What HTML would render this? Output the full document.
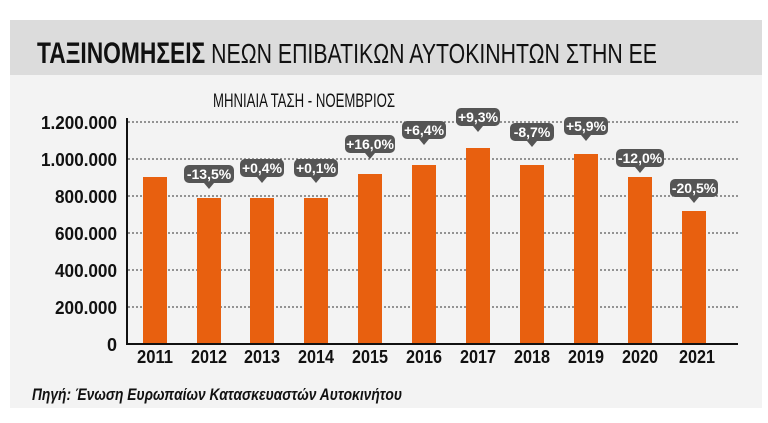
<!DOCTYPE html>
<html><head><meta charset="utf-8"><style>
body{margin:0;width:768px;height:418px;background:#fff;overflow:hidden;font-family:"Liberation Sans",sans-serif;}
</style></head><body>
<svg width="768" height="418" viewBox="0 0 768 418" xmlns="http://www.w3.org/2000/svg" font-family="'Liberation Sans',sans-serif">
<rect x="10" y="20" width="752" height="388" fill="#f3f3f3"/>
<rect x="10" y="20" width="752" height="55" fill="#dcdcdc"/>
<text x="37" y="63" font-size="30" font-weight="bold" fill="#111" textLength="620" lengthAdjust="spacingAndGlyphs"><tspan font-weight="bold">ΤΑΞΙΝΟΜΗΣΕΙΣ</tspan><tspan font-weight="normal" font-size="28"> ΝΕΩΝ ΕΠΙΒΑΤΙΚΩΝ ΑΥΤΟΚΙΝΗΤΩΝ ΣΤΗΝ ΕΕ</tspan></text>
<text x="213" y="107" font-size="19" fill="#111" textLength="182" lengthAdjust="spacingAndGlyphs">ΜΗΝΙΑΙΑ ΤΑΣΗ - ΝΟΕΜΒΡΙΟΣ</text>
<g stroke="#333" stroke-width="1" stroke-dasharray="2,2">
<line x1="128" x2="738" y1="122" y2="122"/><line x1="128" x2="738" y1="159" y2="159"/><line x1="128" x2="738" y1="196" y2="196"/><line x1="128" x2="738" y1="233" y2="233"/><line x1="128" x2="738" y1="270" y2="270"/><line x1="128" x2="738" y1="307" y2="307"/>
</g>
<g font-size="18" font-weight="bold" fill="#111" text-anchor="end">
<text x="117" y="129" textLength="76" lengthAdjust="spacingAndGlyphs">1.200.000</text><text x="117" y="166" textLength="76" lengthAdjust="spacingAndGlyphs">1.000.000</text><text x="117" y="203" textLength="62" lengthAdjust="spacingAndGlyphs">800.000</text><text x="117" y="240" textLength="62" lengthAdjust="spacingAndGlyphs">600.000</text><text x="117" y="277" textLength="62" lengthAdjust="spacingAndGlyphs">400.000</text><text x="117" y="314" textLength="62" lengthAdjust="spacingAndGlyphs">200.000</text><text x="117" y="351">0</text>
</g>
<g fill="#e8600f">
<rect x="143" y="177" width="24" height="167"/>
<rect x="197" y="198" width="24" height="146"/>
<rect x="250" y="198" width="24" height="146"/>
<rect x="304" y="198" width="24" height="146"/>
<rect x="358" y="174" width="24" height="170"/>
<rect x="412" y="165" width="24" height="179"/>
<rect x="466" y="148" width="24" height="196"/>
<rect x="520" y="165" width="24" height="179"/>
<rect x="574" y="154" width="24" height="190"/>
<rect x="628" y="177" width="24" height="167"/>
<rect x="682" y="211" width="24" height="133"/>
</g>
<line x1="127" y1="118" x2="127" y2="344" stroke="#111" stroke-width="2"/>
<line x1="126" y1="344" x2="738" y2="344" stroke="#111" stroke-width="2"/>
<g font-size="18" font-weight="bold" fill="#111" text-anchor="middle">
<text x="155" y="363" textLength="36" lengthAdjust="spacingAndGlyphs">2011</text><text x="209" y="363" textLength="36" lengthAdjust="spacingAndGlyphs">2012</text><text x="262" y="363" textLength="36" lengthAdjust="spacingAndGlyphs">2013</text><text x="316" y="363" textLength="36" lengthAdjust="spacingAndGlyphs">2014</text><text x="370" y="363" textLength="36" lengthAdjust="spacingAndGlyphs">2015</text><text x="424" y="363" textLength="36" lengthAdjust="spacingAndGlyphs">2016</text><text x="478" y="363" textLength="36" lengthAdjust="spacingAndGlyphs">2017</text><text x="532" y="363" textLength="36" lengthAdjust="spacingAndGlyphs">2018</text><text x="586" y="363" textLength="36" lengthAdjust="spacingAndGlyphs">2019</text><text x="640" y="363" textLength="36" lengthAdjust="spacingAndGlyphs">2020</text><text x="697" y="363" textLength="36" lengthAdjust="spacingAndGlyphs">2021</text>
</g>
<g font-size="14" font-weight="bold" fill="#fff" text-anchor="middle">
<g transform="translate(209,174)"><rect x="-25" y="-9" width="50" height="18" rx="5" fill="#555"/><path d="M-5 9 L0 15 L5 9Z" fill="#555"/><text y="5">-13,5%</text></g>
<g transform="translate(262,168)"><rect x="-22" y="-9" width="44" height="18" rx="5" fill="#555"/><path d="M-5 9 L0 15 L5 9Z" fill="#555"/><text y="5">+0,4%</text></g>
<g transform="translate(316,168)"><rect x="-22" y="-9" width="44" height="18" rx="5" fill="#555"/><path d="M-5 9 L0 15 L5 9Z" fill="#555"/><text y="5">+0,1%</text></g>
<g transform="translate(370,144)"><rect x="-25" y="-9" width="50" height="18" rx="5" fill="#555"/><path d="M-5 9 L0 15 L5 9Z" fill="#555"/><text y="5">+16,0%</text></g>
<g transform="translate(424,130)"><rect x="-22" y="-9" width="44" height="18" rx="5" fill="#555"/><path d="M-5 9 L0 15 L5 9Z" fill="#555"/><text y="5">+6,4%</text></g>
<g transform="translate(478,117)"><rect x="-22" y="-9" width="44" height="18" rx="5" fill="#555"/><path d="M-5 9 L0 15 L5 9Z" fill="#555"/><text y="5">+9,3%</text></g>
<g transform="translate(532,132)"><rect x="-22" y="-9" width="44" height="18" rx="5" fill="#555"/><path d="M-5 9 L0 15 L5 9Z" fill="#555"/><text y="5">-8,7%</text></g>
<g transform="translate(586,126)"><rect x="-22" y="-9" width="44" height="18" rx="5" fill="#555"/><path d="M-5 9 L0 15 L5 9Z" fill="#555"/><text y="5">+5,9%</text></g>
<g transform="translate(640,158)"><rect x="-24" y="-9" width="48" height="18" rx="5" fill="#555"/><path d="M-5 9 L0 15 L5 9Z" fill="#555"/><text y="5">-12,0%</text></g>
<g transform="translate(694,188)"><rect x="-24" y="-9" width="48" height="18" rx="5" fill="#555"/><path d="M-5 9 L0 15 L5 9Z" fill="#555"/><text y="5">-20,5%</text></g>
</g>
<text x="32" y="400" font-size="17" font-weight="bold" font-style="italic" fill="#111" textLength="370" lengthAdjust="spacingAndGlyphs">Πηγή: Ένωση Ευρωπαίων Κατασκευαστών Αυτοκινήτου</text>
</svg>
</body></html>
